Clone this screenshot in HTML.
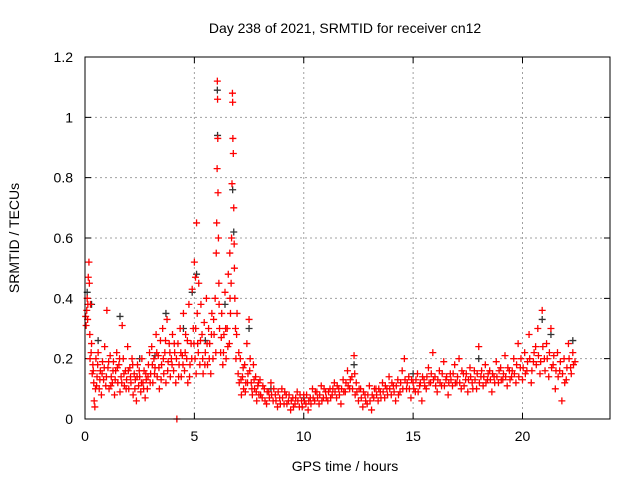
<!DOCTYPE html>
<html><head><meta charset="utf-8"><style>
body{margin:0;background:#fff}
svg{display:block;font-family:"Liberation Sans",sans-serif}
</style></head><body>
<svg id="chart" width="640" height="480" viewBox="0 0 640 480">
<rect width="640" height="480" fill="#fff"/>
<g id="grid"></g>
<g id="axes"></g>
<g id="black-series"></g>
<g id="red-series"></g>
<rect x="85" y="57" width="525" height="362" fill="none" stroke="#000" stroke-width="1"/>
<text x="345" y="33" font-size="14" text-anchor="middle">Day 238 of 2021, SRMTID for receiver cn12</text>
<text x="345" y="471" font-size="14" text-anchor="middle">GPS time / hours</text>
<text transform="translate(19,238) rotate(-90)" font-size="14" text-anchor="middle">SRMTID / TECUs</text>
</svg>
<script>
const xTicks=[0,5,10,15,20];
const yTicks=[0,0.2,0.4,0.6,0.8,1,1.2];
const yTickLabels=["0","0.2","0.4","0.6","0.8","1","1.2"];
const blackPoints=[[0.1,.42],[0.3,.38],[1.6,.34],[3.7,.35],[4.9,.42],[5.1,.48],[6.05,1.09],[6.06,.94],[6.75,.76],[6.8,.62],[7.5,.3],[12.3,.18],[20.9,.33],[22.3,.26],[8.5,.1],[15,.15],[18,.2],[2.5,.2],[4.5,.3],[10,.07],[5.5,.26],[6.4,.38],[21.3,.28],[0.6,.26],[3.2,.21]];
const redPoints=[[0.05,.31],[0.08,.36],[0.1,.4],[0.12,.33],[0.15,.47],[0.18,.52],[0.2,.45],[0.22,.28],[0.25,.38],[0.28,.22],[0.3,.25],[0.33,.15],[0.36,.18],[0.4,.12],[0.42,.06],[0.45,.04],[0.48,.1],[0.5,.2],[0.55,.14],[0.6,.22],[0.65,.1],[0.7,.16],[0.75,.08],[0.8,.19],[0.85,.13],[0.9,.24],[0.95,.11],[1.0,.36],[1.05,.17],[1.1,.1],[1.15,.21],[1.2,.14],[1.25,.12],[1.3,.19],[1.35,.08],[1.4,.16],[1.45,.22],[1.5,.12],[1.55,.18],[1.6,.09],[1.65,.14],[1.7,.31],[1.75,.2],[1.8,.11],[1.85,.16],[1.9,.13],[1.95,.24],[2.0,.1],[2.05,.17],[2.1,.12],[2.15,.2],[2.2,.08],[2.25,.15],[2.3,.13],[2.35,.06],[2.4,.18],[2.45,.11],[2.5,.14],[2.55,.09],[2.6,.2],[2.65,.12],[2.7,.16],[2.75,.07],[2.8,.13],[2.85,.1],[2.9,.18],[2.95,.22],[3.0,.15],[3.05,.24],[3.1,.12],[3.15,.2],[3.2,.17],[3.25,.28],[3.3,.14],[3.35,.21],[3.4,.1],[3.45,.26],[3.5,.18],[3.55,.3],[3.6,.15],[3.65,.22],[3.7,.12],[3.75,.33],[3.8,.19],[3.85,.25],[3.9,.14],[3.95,.2],[4.0,.28],[4.05,.16],[4.1,.22],[4.15,.12],[4.2,0.0],[4.25,.25],[4.3,.18],[4.35,.3],[4.4,.14],[4.45,.21],[4.5,.35],[4.55,.16],[4.6,.28],[4.65,.2],[4.7,.12],[4.75,.38],[4.8,.18],[4.85,.25],[4.9,.43],[4.95,.3],[5.0,.52],[5.03,.2],[5.05,.47],[5.08,.15],[5.1,.65],[5.13,.35],[5.15,.25],[5.2,.45],[5.25,.18],[5.3,.38],[5.35,.28],[5.4,.15],[5.45,.32],[5.5,.22],[5.55,.4],[5.6,.18],[5.65,.3],[5.7,.25],[5.75,.15],[5.8,.35],[5.85,.2],[5.9,.28],[5.95,.4],[6.0,.55],[6.02,.65],[6.04,.83],[6.05,1.12],[6.06,1.06],[6.07,.93],[6.08,.75],[6.1,.6],[6.12,.45],[6.15,.3],[6.2,.22],[6.25,.35],[6.3,.18],[6.35,.28],[6.4,.42],[6.45,.2],[6.5,.3],[6.55,.48],[6.6,.25],[6.62,.55],[6.65,.35],[6.7,.6],[6.72,.78],[6.74,1.08],[6.75,1.05],[6.76,.93],[6.78,.88],[6.8,.7],[6.82,.58],[6.85,.4],[6.88,.3],[6.9,.2],[6.95,.35],[7.0,.15],[7.05,.12],[7.1,.2],[7.15,.08],[7.2,.14],[7.25,.1],[7.3,.18],[7.35,.12],[7.4,.25],[7.45,.15],[7.5,.33],[7.55,.2],[7.6,.12],[7.65,.08],[7.7,.18],[7.75,.1],[7.8,.14],[7.85,.06],[7.9,.11],[7.95,.08],[8.0,.13],[8.1,.07],[8.2,.1],[8.3,.05],[8.4,.09],[8.5,.12],[8.6,.06],[8.7,.08],[8.8,.04],[8.9,.07],[9.0,.1],[9.1,.05],[9.2,.08],[9.3,.06],[9.4,.03],[9.5,.07],[9.6,.05],[9.7,.09],[9.8,.04],[9.9,.06],[10.0,.08],[10.1,.05],[10.2,.03],[10.3,.07],[10.4,.1],[10.5,.06],[10.6,.09],[10.7,.05],[10.8,.11],[10.9,.07],[11.0,.09],[11.1,.06],[11.2,.1],[11.3,.08],[11.4,.12],[11.5,.07],[11.6,.1],[11.7,.05],[11.8,.13],[11.9,.09],[12.0,.16],[12.1,.1],[12.2,.14],[12.3,.21],[12.35,.08],[12.4,.12],[12.5,.06],[12.6,.1],[12.7,.04],[12.8,.08],[12.9,.05],[13.0,.11],[13.1,.03],[13.2,.07],[13.3,.1],[13.4,.06],[13.5,.09],[13.6,.12],[13.7,.07],[13.8,.1],[13.9,.14],[14.0,.08],[14.1,.11],[14.2,.06],[14.3,.13],[14.4,.09],[14.5,.16],[14.6,.2],[14.7,.1],[14.8,.14],[14.9,.07],[15.0,.12],[15.1,.09],[15.2,.15],[15.3,.11],[15.4,.06],[15.5,.13],[15.6,.1],[15.7,.17],[15.8,.12],[15.9,.22],[16.0,.14],[16.1,.09],[16.2,.16],[16.3,.11],[16.4,.19],[16.5,.13],[16.6,.08],[16.7,.15],[16.8,.11],[16.9,.18],[17.0,.12],[17.1,.2],[17.2,.1],[17.3,.15],[17.4,.13],[17.5,.09],[17.6,.17],[17.7,.12],[17.8,.16],[17.9,.1],[18.0,.24],[18.1,.14],[18.2,.11],[18.3,.18],[18.4,.13],[18.5,.16],[18.6,.09],[18.7,.14],[18.8,.19],[18.9,.12],[19.0,.17],[19.1,.13],[19.2,.21],[19.3,.11],[19.4,.16],[19.5,.14],[19.6,.2],[19.7,.12],[19.8,.25],[19.9,.17],[20.0,.13],[20.1,.22],[20.2,.16],[20.3,.28],[20.4,.12],[20.5,.19],[20.6,.24],[20.7,.3],[20.8,.15],[20.9,.36],[21.0,.2],[21.1,.25],[21.2,.14],[21.3,.3],[21.4,.18],[21.5,.1],[21.6,.22],[21.7,.16],[21.8,.06],[21.9,.2],[22.0,.13],[22.1,.25],[22.2,.17],[22.3,.22],[22.4,.19]];
const redPointsExtra=[[0.03,.34],[0.13,.38],[0.23,.2],[0.38,.16],[0.53,.11],[0.58,.18],[0.68,.13],[0.78,.15],[0.88,.17],[0.98,.14],[1.08,.19],[1.18,.11],[1.28,.16],[1.38,.13],[1.48,.17],[1.58,.2],[1.68,.12],[1.78,.15],[1.88,.1],[1.98,.16],[2.08,.14],[2.18,.18],[2.28,.1],[2.38,.14],[2.48,.16],[2.58,.12],[2.68,.1],[2.78,.15],[2.88,.14],[2.98,.12],[3.08,.18],[3.18,.15],[3.28,.22],[3.38,.17],[3.48,.13],[3.58,.2],[3.68,.26],[3.78,.16],[3.88,.22],[3.98,.18],[4.08,.25],[4.18,.2],[4.28,.14],[4.38,.22],[4.48,.18],[4.58,.22],[4.68,.26],[4.78,.14],[4.88,.2],[4.98,.25],[5.06,.3],[5.18,.22],[5.28,.26],[5.38,.2],[5.48,.18],[5.58,.25],[5.68,.2],[5.78,.28],[5.88,.33],[5.98,.22],[6.13,.38],[6.23,.27],[6.33,.22],[6.43,.3],[6.53,.24],[6.63,.4],[6.68,.45],[6.83,.5],[6.93,.28],[7.03,.22],[7.13,.13],[7.23,.17],[7.33,.09],[7.43,.12],[7.53,.16],[7.63,.1],[7.73,.13],[7.83,.09],[7.93,.12],[8.03,.08],[8.13,.11],[8.23,.06],[8.33,.09],[8.43,.07],[8.53,.08],[8.63,.1],[8.73,.06],[8.83,.09],[8.93,.05],[9.03,.07],[9.13,.09],[9.23,.05],[9.33,.08],[9.43,.06],[9.53,.04],[9.63,.07],[9.73,.06],[9.83,.08],[9.93,.04],[10.03,.06],[10.13,.08],[10.23,.06],[10.33,.05],[10.43,.07],[10.53,.09],[10.63,.07],[10.73,.08],[10.83,.06],[10.93,.1],[11.03,.07],[11.13,.09],[11.23,.07],[11.33,.1],[11.43,.09],[11.53,.11],[11.63,.08],[11.73,.1],[11.83,.09],[11.93,.12],[12.03,.11],[12.13,.13],[12.23,.1],[12.33,.15],[12.43,.09],[12.53,.1],[12.63,.07],[12.73,.09],[12.83,.06],[12.93,.08],[13.03,.06],[13.13,.08],[13.23,.1],[13.33,.08],[13.43,.1],[13.53,.07],[13.63,.09],[13.73,.11],[13.83,.08],[13.93,.1],[14.03,.12],[14.13,.09],[14.23,.11],[14.33,.08],[14.43,.12],[14.53,.1],[14.63,.13],[14.73,.12],[14.83,.1],[14.93,.13],[15.03,.1],[15.13,.13],[15.23,.09],[15.33,.12],[15.43,.14],[15.53,.11],[15.63,.14],[15.73,.12],[15.83,.15],[15.93,.13],[16.03,.11],[16.13,.13],[16.23,.12],[16.33,.15],[16.43,.11],[16.53,.14],[16.63,.12],[16.73,.13],[16.83,.15],[16.93,.12],[17.03,.14],[17.13,.12],[17.23,.16],[17.33,.11],[17.43,.15],[17.53,.13],[17.63,.14],[17.73,.1],[17.83,.13],[17.93,.15],[18.03,.12],[18.13,.16],[18.23,.14],[18.33,.12],[18.43,.15],[18.53,.13],[18.63,.15],[18.73,.12],[18.83,.14],[18.93,.16],[19.03,.13],[19.13,.15],[19.23,.14],[19.33,.17],[19.43,.13],[19.53,.16],[19.63,.15],[19.73,.18],[19.83,.14],[19.93,.2],[20.03,.17],[20.13,.15],[20.23,.19],[20.33,.2],[20.43,.16],[20.53,.22],[20.63,.18],[20.73,.21],[20.83,.19],[20.93,.24],[21.03,.16],[21.13,.2],[21.23,.22],[21.33,.17],[21.43,.21],[21.53,.16],[21.63,.14],[21.73,.19],[21.83,.15],[21.93,.12],[22.03,.17],[22.13,.2],[22.23,.15],[22.33,.18]];

const X0=85,X1=610,Y0=419,Y1=57,XMAX=24,YMAX=1.2;
function xs(v){return X0+(X1-X0)*v/XMAX;}
function ys(v){return Y0-(Y0-Y1)*v/YMAX;}
const NS="http://www.w3.org/2000/svg";
function mk(tag,attrs,parent){const e=document.createElementNS(NS,tag);for(const k in attrs)e.setAttribute(k,attrs[k]);parent.appendChild(e);return e;}
const grid=document.getElementById('grid'),axes=document.getElementById('axes');
xTicks.forEach(t=>{
  const x=xs(t);
  if(t>0){const g=mk('line',{x1:x,x2:x,y1:Y1,y2:Y0,stroke:'#a0a0a0','stroke-dasharray':'2,3'},grid);
  
  }
  const tk=mk('path',{d:`M${x},${Y0}v-6M${x},${Y1}v6`,stroke:'#000'},axes);
  
  
  const lb=mk('text',{x:x,y:Y0+22,'font-size':14,'text-anchor':'middle'},axes);
  lb.textContent=String(t);
  
  
});
yTicks.forEach((t,i)=>{
  const y=ys(t);
  if(t>0&&t<YMAX){const g=mk('line',{x1:X0,x2:X1,y1:y,y2:y,stroke:'#a0a0a0','stroke-dasharray':'2,3'},grid);
  
  }
  const tk=mk('path',{d:`M${X0},${y}h6M${X1},${y}h-6`,stroke:'#000'},axes);
  
  
  const lb=mk('text',{x:X0-12,y:y+5,'font-size':14,'text-anchor':'end'},axes);
  lb.textContent=yTickLabels[i];
  
  
});
function plot(points,gid,color,name){
  const g=document.getElementById(gid);
  let d='';
  points.forEach(p=>{const x=xs(p[0]),y=ys(p[1]);d+=`M${x-3.5},${y}h7M${x},${y-3.5}v7`;});
  const path=mk('path',{d:d,stroke:color,'stroke-width':1.3,fill:'none'},g);
  
  
}
plot(blackPoints,'black-series','#333','black-markers');
plot(redPoints,'red-series','#ff0000','red-markers');
plot(redPointsExtra,'red-series','#ff0000','red-markers-extra');
</script>
</body></html>
